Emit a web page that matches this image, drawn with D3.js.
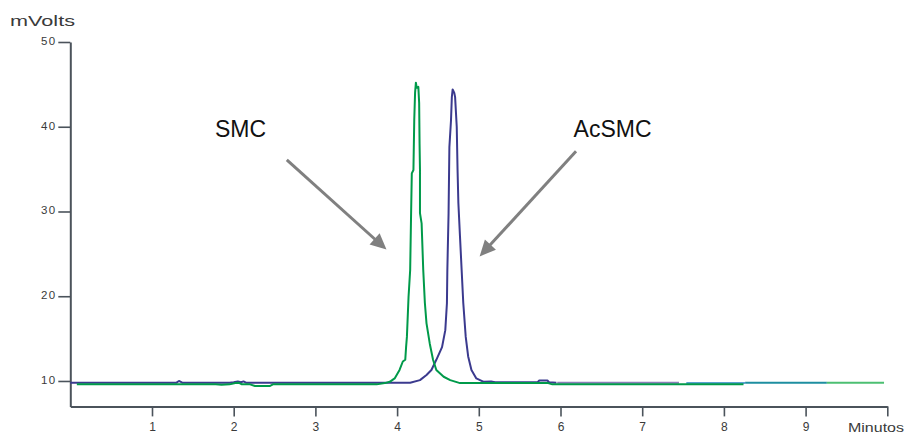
<!DOCTYPE html>
<html>
<head>
<meta charset="utf-8">
<script src="https://cdn.jsdelivr.net/npm/d3@7"></script>
<style>
  html, body { margin: 0; padding: 0; background: #fff; }
  svg { display: block; font-family: "Liberation Sans", Arial, sans-serif; }
</style>
</head>
<body>
<svg id="chart" width="905" height="435"></svg>
<script>
// Chromatogram traces: [time (min), signal (mV)]
const smc = [
  [0.08, 9.6], [1.78, 9.6], [1.85, 9.55], [1.95, 9.6], [2.02, 9.75], [2.06, 9.8],
  [2.1, 9.6], [2.2, 9.6], [2.26, 9.4], [2.44, 9.4], [2.48, 9.6], [3.75, 9.6],
  [3.85, 9.75], [3.91, 9.9], [3.97, 10.3], [4.03, 11.3], [4.07, 12.3], [4.10, 12.5],
  [4.11, 14.0], [4.12, 15.2], [4.14, 19.9], [4.16, 23.1], [4.17, 29.0], [4.18, 34.5],
  [4.20, 34.9], [4.21, 40.8], [4.22, 44.0], [4.23, 45.2], [4.24, 44.6], [4.26, 44.7],
  [4.27, 42.8], [4.275, 38.0], [4.28, 34.9], [4.28, 29.8], [4.30, 28.6], [4.32, 23.1],
  [4.34, 19.2], [4.36, 16.8], [4.40, 14.4], [4.44, 12.5], [4.48, 11.3], [4.57, 10.5],
  [4.65, 10.1], [4.77, 9.75], [4.9, 9.75], [5.85, 9.75], [5.9, 9.6], [8.24, 9.6]
];

const acsmc = [
  [0.0, 9.8], [1.30, 9.8], [1.33, 10.0], [1.37, 9.8], [1.95, 9.8], [2.0, 9.85],
  [2.05, 9.95], [2.09, 9.85], [2.12, 9.95], [2.15, 9.8], [4.16, 9.8], [4.28, 10.1],
  [4.36, 10.7], [4.42, 11.3], [4.48, 12.5], [4.55, 14.0], [4.59, 16.0], [4.61, 19.2],
  [4.615, 23.1], [4.63, 29.8], [4.64, 37.6], [4.66, 40.8], [4.67, 43.5], [4.68, 44.4],
  [4.70, 44.0], [4.71, 43.5], [4.73, 40.0], [4.74, 34.9], [4.75, 31.0], [4.77, 27.0],
  [4.79, 23.1], [4.81, 19.2], [4.84, 15.2], [4.87, 12.9], [4.91, 11.3], [4.97, 10.3],
  [5.06, 9.9], [5.15, 9.95], [5.2, 9.85], [5.72, 9.85], [5.74, 10.05], [5.84, 10.05],
  [5.86, 9.85], [5.95, 9.8]
];

// Later baseline runs of the overlaid traces
const runA = [[5.96, 9.8], [7.45, 9.8]];
const runB = [[7.54, 9.77], [8.26, 9.77]];
const runC = [[8.26, 9.8], [9.26, 9.8]];
const runD = [[9.26, 9.8], [9.96, 9.8]];

const yTicks = [10, 20, 30, 40, 50];
const xTicks = [1, 2, 3, 4, 5, 6, 7, 8, 9, 10];

// Peak annotations: label position and arrow from -> to, in data units
const labels = [
  { text: "SMC",   t: 1.77, v: 38.8, from: [2.65, 36.1], to: [3.87, 25.5] },
  { text: "AcSMC", t: 6.16, v: 38.8, from: [6.19, 37.1], to: [5.01, 24.7] }
];

const svg = d3.select("#chart");
const x = d3.scaleLinear().domain([0, 10]).range([70.3, 887.3]);
const y = d3.scaleLinear().domain([7, 50]).range([406.4, 42]);

const axisColor = "#4b535b";
const textColor = "#3a3a3a";

// Y axis
const gy = svg.append("g")
  .attr("transform", `translate(${x(0)},0)`)
  .call(d3.axisLeft(y).tickValues(yTicks).tickSize(12).tickSizeOuter(0).tickPadding(2));
gy.select(".domain").attr("stroke", axisColor).attr("stroke-width", 2);
gy.selectAll(".tick line").attr("stroke", axisColor).attr("stroke-width", 1.6);
gy.selectAll(".tick text")
  .attr("fill", textColor)
  .style("font-size", "11.5px")
  .style("letter-spacing", "1.2px")
  .attr("dy", "0.2em");

// X axis
const gx = svg.append("g")
  .attr("transform", `translate(0,${y(7)})`)
  .call(d3.axisBottom(x).tickValues(xTicks).tickSize(10).tickSizeOuter(0).tickPadding(6)
    .tickFormat(d => d === 10 ? "" : d));
gx.select(".domain").attr("stroke", axisColor).attr("stroke-width", 2);
gx.selectAll(".tick line").attr("stroke", axisColor).attr("stroke-width", 1.6);
gx.selectAll(".tick text").attr("fill", textColor).style("font-size", "12px");

// Axis titles
svg.append("text")
  .attr("x", 10).attr("y", 26)
  .attr("fill", textColor)
  .style("font-size", "15px")
  .attr("textLength", 65).attr("lengthAdjust", "spacingAndGlyphs")
  .text("mVolts");

svg.append("text")
  .attr("x", 848).attr("y", 432)
  .attr("fill", textColor)
  .style("font-size", "12.5px")
  .attr("textLength", 56).attr("lengthAdjust", "spacingAndGlyphs")
  .text("Minutos");

// Traces
const line = d3.line().x(d => x(d[0])).y(d => y(d[1]));
const traces = [
  { data: runA,  color: "#8a7db8", width: 2 },
  { data: runB,  color: "#5aa0d2", width: 2 },
  { data: runC,  color: "#1e8ea0", width: 2 },
  { data: runD,  color: "#4cbf72", width: 2 },
  { data: acsmc, color: "#3b3a8e", width: 2 },
  { data: smc,   color: "#009a4a", width: 2 }
];
svg.append("g").selectAll("path")
  .data(traces)
  .join("path")
  .attr("d", d => line(d.data))
  .attr("fill", "none")
  .attr("stroke", d => d.color)
  .attr("stroke-width", d => d.width)
  .attr("stroke-linejoin", "round");

// Annotations: labels with arrows pointing at each peak
const arrowColor = "#808080";
const headLen = 16, headHalf = 7.5;
const ann = svg.append("g");
labels.forEach(l => {
  ann.append("text")
    .attr("x", x(l.t)).attr("y", y(l.v))
    .attr("fill", "#111")
    .style("font-size", "23px")
    .text(l.text);

  const x1 = x(l.from[0]), y1 = y(l.from[1]);
  const x2 = x(l.to[0]), y2 = y(l.to[1]);
  const dx = x2 - x1, dy = y2 - y1, len = Math.hypot(dx, dy);
  const ux = dx / len, uy = dy / len;
  const bx = x2 - ux * headLen, by = y2 - uy * headLen;

  ann.append("line")
    .attr("x1", x1).attr("y1", y1)
    .attr("x2", bx + ux * 2).attr("y2", by + uy * 2)
    .attr("stroke", arrowColor).attr("stroke-width", 3);

  ann.append("path")
    .attr("d", `M${x2},${y2} L${bx - uy * headHalf},${by + ux * headHalf} L${bx + uy * headHalf},${by - ux * headHalf} Z`)
    .attr("fill", arrowColor);
});
</script>
</body>
</html>
